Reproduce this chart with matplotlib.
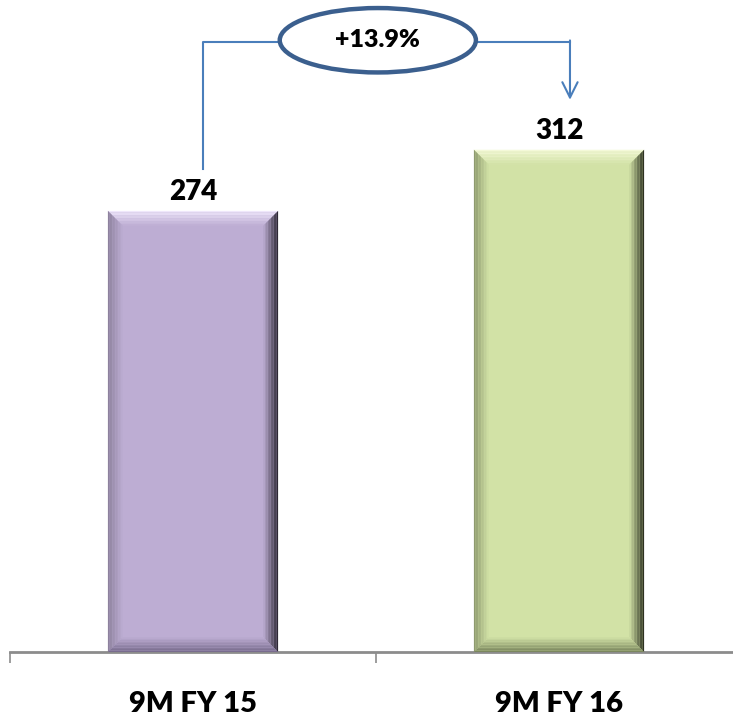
import matplotlib.pyplot as plt
import numpy as np
from matplotlib.patches import Ellipse, Polygon
from matplotlib.colors import to_rgb

categories = ['9M FY 15', '9M FY 16']
values = [274, 312]
growth_label = '+13.9%'
bar_colors = ['#BDADD3', '#D2E2A6']
# outer colours of the bevel: top, left, right, bottom
bevel_colors = [
    ['#F2EAFD', '#8A7F9A', '#25212C', '#75698A'],
    ['#F6FADB', '#8A966C', '#24281A', '#76825A'],
]

W, H = 733, 719
fig = plt.figure(figsize=(W / 100, H / 100), dpi=100)
ax = fig.add_axes([10 / W, 67 / H, 732 / W, 652 / H])
ax.set_xlim(-0.5, 1.5)
ax.set_ylim(0, 405)

x = np.arange(len(categories))
bars = ax.bar(x, values, width=0.465, color=bar_colors, zorder=2)

# pixel -> data scale factors
px_x = 2.0 / 732
px_y = 405 / 652


def mix(c1, c2, t):
    a, b = np.array(to_rgb(c1)), np.array(to_rgb(c2))
    return tuple(a * (1 - t) + b * t)


def bevel(rect, base, edges, size=15, steps=10):
    x0, y0 = rect.get_x(), rect.get_y()
    x1, y1 = x0 + rect.get_width(), y0 + rect.get_height()
    dx, dy = size * px_x, size * px_y
    for i in range(steps):
        a, b = i / steps, (i + 1) / steps
        t = (i + 0.5) / steps
        oa = (x0 + a * dx, y0 + a * dy, x1 - a * dx, y1 - a * dy)
        ob = (x0 + b * dx, y0 + b * dy, x1 - b * dx, y1 - b * dy)
        sides = [
            [(oa[0], oa[3]), (oa[2], oa[3]), (ob[2], ob[3]), (ob[0], ob[3])],
            [(oa[0], oa[1]), (oa[0], oa[3]), (ob[0], ob[3]), (ob[0], ob[1])],
            [(oa[2], oa[1]), (oa[2], oa[3]), (ob[2], ob[3]), (ob[2], ob[1])],
            [(oa[0], oa[1]), (oa[2], oa[1]), (ob[2], ob[1]), (ob[0], ob[1])],
        ]
        for pts, ec in zip(sides, edges):
            ax.add_patch(Polygon(pts, closed=True, color=mix(ec, base, t),
                                 lw=0, zorder=3))


for rect, c, ecs, v in zip(bars, bar_colors, bevel_colors, values):
    bevel(rect, c, ecs)
    ax.annotate(str(v), (rect.get_x() + rect.get_width() / 2, v),
                xytext=(0, 4), textcoords='offset points', ha='center',
                va='bottom', fontsize=20, fontweight='heavy', family='Lato',
                color='black')

# growth bracket
line_c = '#4A7EBB'
y_br = 379
xl, xr = 0.027, 1.030
ell_x, ell_w, ell_h = 0.505, 0.536, 40
ax.plot([xl, xl, ell_x - ell_w / 2], [300, y_br, y_br], color=line_c, lw=1.5,
        zorder=4, clip_on=False)
ax.plot([ell_x + ell_w / 2, xr], [y_br, y_br], color=line_c, lw=1.5,
        zorder=4, clip_on=False)
ax.annotate('', xy=(xr, 343), xytext=(xr, y_br + 0.9),
            arrowprops=dict(arrowstyle='->,head_length=1.1,head_width=0.55',
                            color=line_c, lw=1.5, shrinkA=0, shrinkB=0),
            zorder=4)
ax.add_patch(Ellipse((ell_x, y_br + 1), ell_w, ell_h, facecolor='white',
                     edgecolor='#3B5F8E', lw=3.2, zorder=5, clip_on=False))
ax.text(ell_x, y_br + 1, growth_label, ha='center', va='center', fontsize=18,
        fontweight='heavy', family='Lato', zorder=6)

# axis styling
for s in ['top', 'right', 'left']:
    ax.spines[s].set_visible(False)
ax.spines['bottom'].set_color('#8C8C8C')
ax.spines['bottom'].set_linewidth(2)
ax.set_yticks([])
ax.set_xticks([-0.5, 0.5, 1.5])
ax.set_xticklabels([])
ax.tick_params(axis='x', length=8, width=1.2, color='#8C8C8C', direction='out')
ax.set_xticks(x, minor=True)
ax.set_xticklabels(categories, minor=True, fontsize=21, fontweight='heavy',
                   family='Lato')
ax.tick_params(axis='x', which='minor', length=0, pad=28)

fig.savefig('out.png', dpi=100)
